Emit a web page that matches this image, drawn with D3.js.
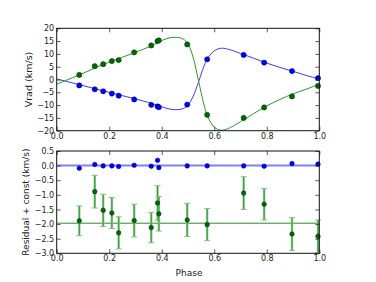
<!DOCTYPE html>
<html><head><meta charset="utf-8">
<script src="https://cdn.jsdelivr.net/npm/d3@7"></script>
<style>
html,body{margin:0;padding:0;background:#fff;}
svg{display:block;font-family:"DejaVu Sans",sans-serif;}
</style></head>
<body>
<svg id="c" width="376" height="282"></svg>
<script>
// ---- data ----
const phase = [0.086, 0.145, 0.177, 0.210, 0.236, 0.295, 0.360, 0.384, 0.389, 0.497, 0.573, 0.712, 0.790, 0.896, 0.995];
const vPrimary = [-2.3, -3.8, -4.6, -5.5, -6.3, -7.8, -9.9, -10.5, -10.8, -9.8, 7.9, 9.6, 6.6, 3.3, 0.5];
const vSecondary = [1.8, 5.2, 6.0, 7.2, 7.6, 10.6, 13.3, 15.0, 15.3, 13.7, -13.8, -15.0, -10.9, -6.6, -2.5];
const residPrimary = [-0.09, 0.04, -0.01, -0.01, -0.03, 0.01, -0.02, 0.18, -0.07, -0.01, -0.01, -0.01, -0.02, 0.07, 0.05];
const residSecondary = [-1.89, -0.89, -1.53, -1.62, -2.30, -1.88, -2.12, -1.28, -1.65, -1.86, -2.02, -0.94, -1.32, -2.34, -2.42];
const errSecondary = [0.51, 0.56, 0.55, 0.53, 0.55, 0.56, 0.52, 0.59, 0.59, 0.57, 0.55, 0.56, 0.54, 0.56, 0.56];
const constPrimary = 0.0;
const constSecondary = -1.97;
// model curves (points read along the drawn fits)
const curvePhase = [0.0, 0.086, 0.15, 0.2, 0.25, 0.3, 0.35, 0.388, 0.42, 0.45, 0.48, 0.50, 0.52, 0.54, 0.56, 0.575, 0.60, 0.625, 0.65, 0.70, 0.75, 0.80, 0.85, 0.90, 0.95, 1.0];
const curvePrimary = [0.2, -2.0, -3.7, -5.0, -6.3, -7.6, -9.0, -10.2, -11.3, -11.8, -11.4, -10.0, -6.5, -1.0, 5.0, 8.3, 11.2, 12.2, 11.9, 10.2, 8.3, 6.4, 4.7, 3.2, 1.6, 0.2];
const curveSecondary = [-1.8, 1.8, 4.7, 6.8, 8.7, 10.6, 12.7, 14.6, 16.0, 16.5, 15.9, 13.9, 8.5, -0.5, -9.5, -14.5, -18.6, -19.8, -19.3, -16.5, -13.3, -10.3, -7.8, -5.6, -3.8, -1.8];
const xTicks = [0, 0.2, 0.4, 0.6, 0.8, 1.0];
const yTicksTop = [-20, -15, -10, -5, 0, 5, 10, 15, 20];
const yTicksBot = [-3.0, -2.5, -2.0, -1.5, -1.0, -0.5, 0.0, 0.5];

// ---- layout ----
const L = 56.7, R = 319.3;
const topP = {y0: 28.3, y1: 130.7};
const botP = {y0: 151, y1: 253.3};
const BLUE = "#0000ff", GREEN = "#008000";
const svg = d3.select("#c");

const x = d3.scaleLinear().domain([0, 1]).range([L, R]);
const yT = d3.scaleLinear().domain([-20, 20]).range([topP.y1, topP.y0]);
const yB = d3.scaleLinear().domain([-3, 0.5]).range([botP.y1, botP.y0]);

function axes(y, p, yt, yfmt) {
  const g = svg.append("g");
  const fs = "8px";
  const ax = g.append("g").attr("transform", `translate(0,${p.y1})`)
    .call(d3.axisBottom(x).tickValues(xTicks).tickFormat(d3.format(".1f")).tickSize(-4).tickPadding(2.5));
  const axt = g.append("g").attr("transform", `translate(0,${p.y0})`)
    .call(d3.axisTop(x).tickValues(xTicks).tickFormat("").tickSize(-4));
  const ay = g.append("g").attr("transform", `translate(${L},0)`)
    .call(d3.axisLeft(y).tickValues(yt).tickFormat(yfmt).tickSize(-4).tickPadding(2.5));
  const ayr = g.append("g").attr("transform", `translate(${R},0)`)
    .call(d3.axisRight(y).tickValues(yt).tickFormat("").tickSize(-4));
  [ax, axt, ay, ayr].forEach(a => {
    a.select(".domain").remove();
    a.selectAll("line").attr("stroke", "#333").attr("stroke-width", 0.8);
    a.selectAll("text").attr("font-size", fs).attr("fill", "#222").attr("font-family", "DejaVu Sans");
  });
  g.append("rect").attr("x", L).attr("y", p.y0).attr("width", R - L).attr("height", p.y1 - p.y0)
    .attr("fill", "none").attr("stroke", "#111").attr("stroke-width", 1);
}

// ---- top panel ----
const lineT = (vals) => d3.line().x((d, i) => x(curvePhase[i])).y(d => yT(d)).curve(d3.curveCatmullRom.alpha(0.5))(vals);
svg.append("path").attr("d", lineT(curvePrimary)).attr("fill", "none").attr("stroke", "#3b3bff").attr("stroke-width", 1);
svg.append("path").attr("d", lineT(curveSecondary)).attr("fill", "none").attr("stroke", "#2e972e").attr("stroke-width", 1);
svg.append("g").selectAll("circle").data(vPrimary).join("circle")
  .attr("cx", (d, i) => x(phase[i])).attr("cy", d => yT(d)).attr("r", 2.6)
  .attr("fill", BLUE).attr("stroke", "#000060").attr("stroke-width", 0.5);
svg.append("g").selectAll("circle").data(vSecondary).join("circle")
  .attr("cx", (d, i) => x(phase[i])).attr("cy", d => yT(d)).attr("r", 2.6)
  .attr("fill", "#006a00").attr("stroke", "#003000").attr("stroke-width", 0.5);
axes(yT, topP, yTicksTop, d3.format("d"));

// ---- bottom panel ----
svg.append("line").attr("x1", L).attr("x2", R).attr("y1", yB(constPrimary)).attr("y2", yB(constPrimary))
  .attr("stroke", "#7f7fff").attr("stroke-width", 2);
svg.append("line").attr("x1", L).attr("x2", R).attr("y1", yB(constSecondary)).attr("y2", yB(constSecondary))
  .attr("stroke", "#2a8a2a").attr("stroke-width", 1);
const eb = svg.append("g");
residSecondary.forEach((v, i) => {
  const cx = x(phase[i]), t = yB(v + errSecondary[i]), b = yB(v - errSecondary[i]);
  eb.append("line").attr("x1", cx).attr("x2", cx).attr("y1", t).attr("y2", b).attr("stroke", "#8fcc8f").attr("stroke-width", 2.4);
  eb.append("line").attr("x1", cx).attr("x2", cx).attr("y1", t).attr("y2", b).attr("stroke", "#2a8f2a").attr("stroke-width", 0.9);
  [t, b].forEach(yy => eb.append("line").attr("x1", cx - 3).attr("x2", cx + 3).attr("y1", yy).attr("y2", yy)
    .attr("stroke", "#7fbf7f").attr("stroke-width", 1));
});
svg.append("g").selectAll("circle").data(residPrimary).join("circle")
  .attr("cx", (d, i) => x(phase[i])).attr("cy", d => yB(d + constPrimary)).attr("r", 2.3)
  .attr("fill", BLUE).attr("stroke", "#000060").attr("stroke-width", 0.5);
svg.append("g").selectAll("circle").data(residSecondary).join("circle")
  .attr("cx", (d, i) => x(phase[i])).attr("cy", d => yB(d)).attr("r", 2.3)
  .attr("fill", "#006a00").attr("stroke", "#003000").attr("stroke-width", 0.5);
axes(yB, botP, yTicksBot, d3.format(".1f"));

// ---- labels ----
svg.append("text").attr("transform", `translate(32,${(topP.y0 + topP.y1) / 2}) rotate(-90)`)
  .attr("text-anchor", "middle").attr("font-size", "9.5px").attr("fill", "#222").text("Vrad (km/s)");
svg.append("text").attr("transform", `translate(29,${(botP.y0 + botP.y1) / 2}) rotate(-90)`)
  .attr("text-anchor", "middle").attr("font-size", "9px").attr("fill", "#222").text("Residual + const (km/s)");
svg.append("text").attr("x", (L + R) / 2 + 1).attr("y", 276)
  .attr("text-anchor", "middle").attr("font-size", "9px").attr("fill", "#222").text("Phase");
</script>
</body></html>
